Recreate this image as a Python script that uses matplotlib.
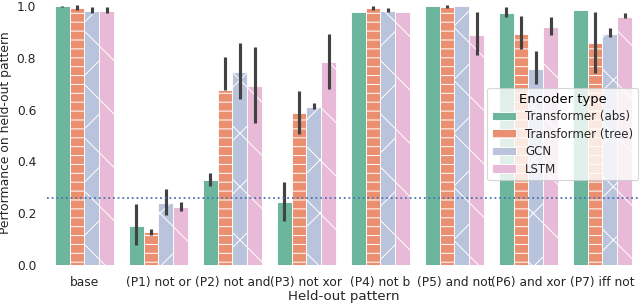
import numpy as np
import matplotlib
matplotlib.use("Agg")
import matplotlib.pyplot as plt

patterns = ["base", "(P1) not or", "(P2) not and", "(P3) not xor", "(P4) not b",
            "(P5) and not", "(P6) and xor", "(P7) iff not"]
encoders = ["Transformer (abs)", "Transformer (tree)", "GCN", "LSTM"]

# mean performance per encoder, one value per held-out pattern
abs_mean = [1.000, 0.152, 0.328, 0.245, 0.978, 1.000, 0.974, 0.985]
tree_mean = [0.992, 0.126, 0.677, 0.587, 0.992, 0.997, 0.894, 0.857]
gcn_mean = [0.981, 0.239, 0.746, 0.609, 0.981, 1.000, 0.759, 0.894]
lstm_mean = [0.981, 0.224, 0.692, 0.785, 0.978, 0.889, 0.921, 0.959]

# confidence interval ends (low, high)
abs_lo = [0.998, 0.077, 0.305, 0.171, 0.978, 1.000, 0.959, 0.985]
abs_hi = [1.002, 0.236, 0.356, 0.319, 0.978, 1.000, 0.998, 0.985]
tree_lo = [0.985, 0.116, 0.677, 0.506, 0.985, 0.992, 0.833, 0.743]
tree_hi = [1.004, 0.140, 0.804, 0.673, 1.002, 1.004, 0.962, 0.978]
gcn_lo = [0.975, 0.193, 0.641, 0.601, 0.978, 1.000, 0.699, 0.879]
gcn_hi = [0.998, 0.293, 0.858, 0.626, 0.991, 1.000, 0.828, 0.915]
lstm_lo = [0.975, 0.210, 0.547, 0.678, 0.978, 0.811, 0.888, 0.953]
lstm_hi = [0.995, 0.245, 0.843, 0.894, 0.978, 0.978, 0.959, 0.972]

chance = 0.259

means = [abs_mean, tree_mean, gcn_mean, lstm_mean]
lows = [abs_lo, tree_lo, gcn_lo, lstm_lo]
highs = [abs_hi, tree_hi, gcn_hi, lstm_hi]
colors = ["#6bb69d", "#ea8f6f", "#b9c3dc", "#e8bad7"]
hatches = [None, "---", "x", "\\"]

plt.rcParams["font.family"] = "DejaVu Sans"
plt.rcParams["hatch.linewidth"] = 0.45
plt.rcParams["hatch.color"] = "white"

fig = plt.figure(figsize=(4, 1.90625), dpi=160)
ax = fig.add_axes([0.074, 0.131, 0.925, 0.866])

x = np.arange(len(patterns))
w = 0.2
for i in range(len(encoders)):
    pos = x + (i - 1.5) * w
    ax.bar(pos, means[i], width=w, color=colors[i], edgecolor="white",
           linewidth=0.4, hatch=hatches[i], label=encoders[i], zorder=2)
    ax.vlines(pos, lows[i], highs[i], color="#424242", linewidth=1.4,
              zorder=3)

ax.axhline(chance, color="#4c72b0", linestyle=":", linewidth=0.8, zorder=4)

ax.set_xlim(-0.5, 7.5)
ax.set_ylim(0, 1.02)
ax.set_xticks(x)
ax.set_xticklabels(patterns, fontsize=5.5, color="#262626")
ax.set_yticks([0.0, 0.2, 0.4, 0.6, 0.8, 1.0])
ax.set_yticklabels(["0.0", "0.2", "0.4", "0.6", "0.8", "1.0"], fontsize=5.5,
                   color="#262626")
ax.tick_params(length=0, pad=5)
ax.set_xlabel("Held-out pattern", fontsize=6.0, color="#262626", labelpad=0.5)
ax.set_ylabel("Performance on held-out pattern", fontsize=5.6,
              color="#262626", labelpad=2)
for s in ax.spines.values():
    s.set_visible(False)

leg = ax.legend(title="Encoder type", loc="upper right",
                bbox_to_anchor=(638 / 640, 1 - 88 / 305),
                bbox_transform=fig.transFigure, fontsize=5.3,
                title_fontsize=5.9, handlelength=2.0, handleheight=0.75,
                framealpha=0.8, edgecolor="#cccccc", borderpad=0.4,
                labelspacing=0.38, handletextpad=0.8, borderaxespad=0)
leg.get_frame().set_linewidth(0.5)
for t in leg.get_texts():
    t.set_color("#262626")

fig.savefig("out.png", dpi=160)
